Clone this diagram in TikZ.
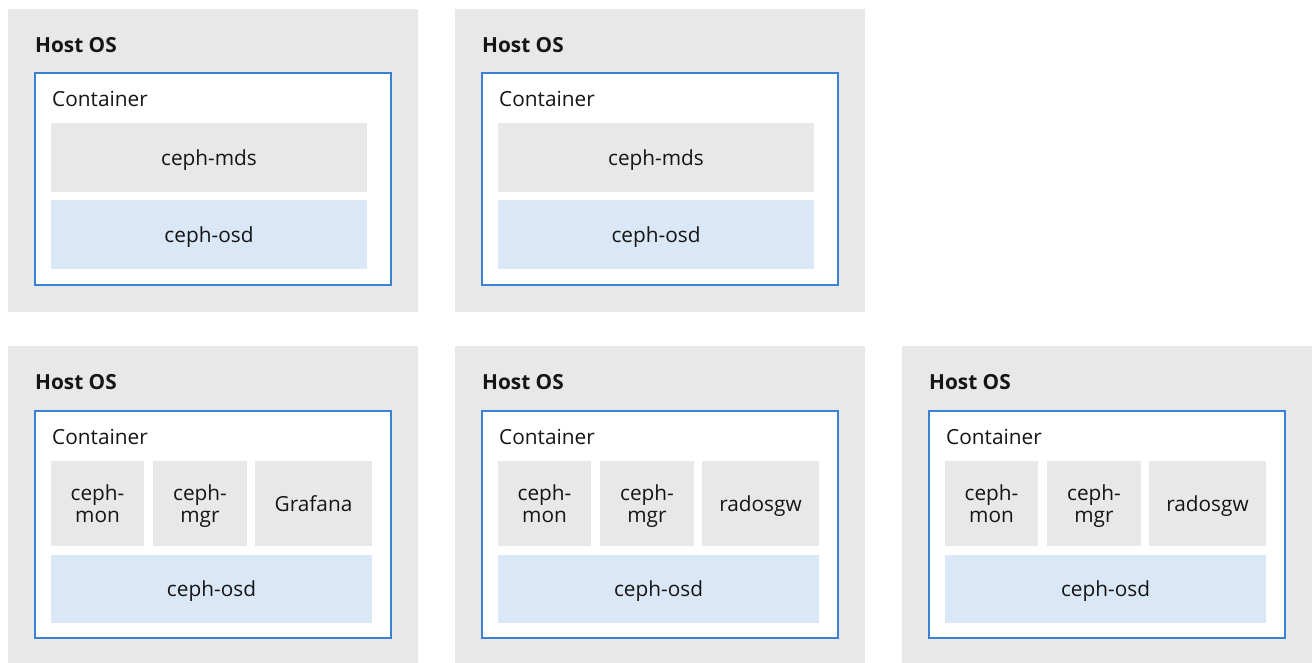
\documentclass[tikz,border=0pt]{standalone}
\usepackage{fontspec}
\setmainfont{Open Sans}
\definecolor{hostgray}{HTML}{E8E8E8}
\definecolor{svcgray}{HTML}{E8E8E8}
\definecolor{osdblue}{HTML}{DAE7F6}
\definecolor{cblue}{HTML}{3A80D6}
\definecolor{ink}{HTML}{151515}
\begin{document}
\begin{tikzpicture}[x=1pt,y=-1pt,
  host/.style={fill=hostgray, draw=none, anchor=north west, minimum width=410pt, inner sep=0pt, outer sep=0pt},
  cont/.style={fill=white, draw=cblue, line width=2pt, anchor=north west, minimum width=356pt, inner sep=0pt},
  box/.style={fill=svcgray, draw=none, inner sep=0pt, outer sep=0pt, align=center, text=ink, text depth=0pt, font=\fontsize{20.8}{22.5}\selectfont},
  osd/.style={box, fill=osdblue},
  hlbl/.style={anchor=base west, inner sep=0pt, text=ink, font=\fontsize{20.8}{22}\selectfont\bfseries},
  clbl/.style={anchor=base west, inner sep=0pt, text=ink, font=\fontsize{20.8}{22}\selectfont}]
\useasboundingbox (0,0) rectangle (1312,662);
% top row
\foreach \i/\x in {1/8,2/455} {
  \node[host, minimum height=303pt] (h\i) at (\x,9) {};
  \node[hlbl] (ht\i) at (\x+27,52) {Host OS};
  \node[cont, minimum height=212pt] (c\i) at (\x+26,72) {};
  \node[clbl] (ct\i) at (\x+44,106) {Container};
  \node[box, minimum width=316pt, minimum height=69pt] (mds\i) at (\x+201,157.5) {ceph-mds};
  \node[osd, minimum width=316pt, minimum height=69pt] (osd\i) at (\x+201,234.5) {ceph-osd};
}
% bottom row
\foreach \i/\x/\t in {3/8/Grafana,4/455/radosgw,5/902/radosgw} {
  \node[host, minimum height=318pt] (h\i) at (\x,346) {};
  \node[hlbl] (ht\i) at (\x+27,389) {Host OS};
  \node[cont, minimum height=227pt] (c\i) at (\x+26,410) {};
  \node[clbl] (ct\i) at (\x+44,444) {Container};
  \node[box, minimum width=93pt, minimum height=85pt] (mon\i) at (\x+89.5,503.5) {ceph-\\mon};
  \node[box, minimum width=94pt, minimum height=85pt] (mgr\i) at (\x+192,503.5) {ceph-\\mgr};
  \node[box, minimum width=117pt, minimum height=85pt] (x\i) at (\x+305.5,503.5) {\t};
  \node[osd, minimum width=321pt, minimum height=68pt] (osd\i) at (\x+203.5,589) {ceph-osd};
}
\end{tikzpicture}
\end{document}
